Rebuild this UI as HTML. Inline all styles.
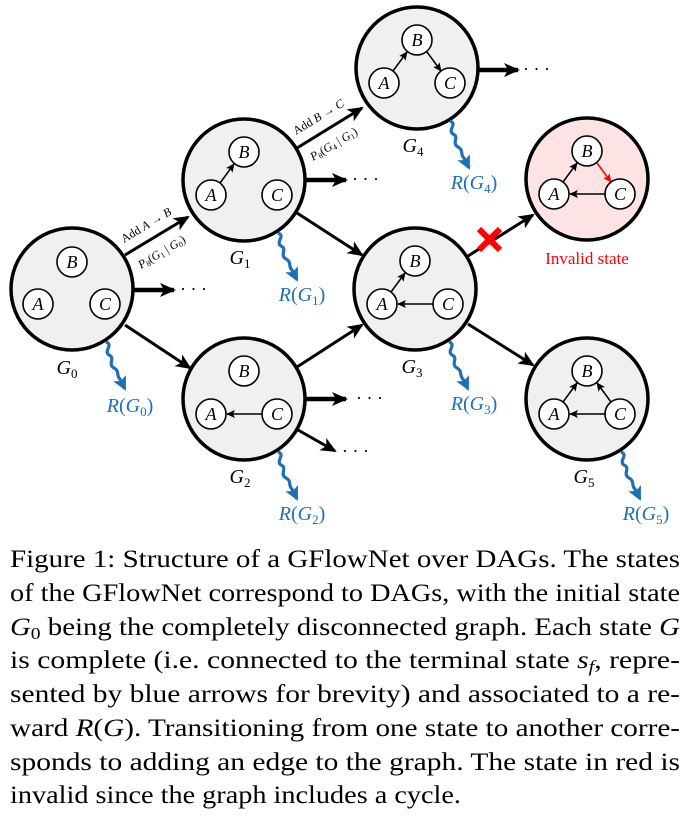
<!DOCTYPE html>
<html><head><meta charset="utf-8"><style>
html,body{margin:0;padding:0;background:#fff;}
svg{display:block}
</style></head><body>
<svg width="689" height="818" viewBox="0 0 689 818" xmlns="http://www.w3.org/2000/svg" font-family="Liberation Serif, serif">
<defs>
<marker id="ah" markerUnits="userSpaceOnUse" markerWidth="18" markerHeight="14" refX="14" refY="7" orient="auto"><path d="M0,0 L16,7 L0,14 L4,7 Z" fill="#000"/></marker>
<marker id="as" markerUnits="userSpaceOnUse" markerWidth="10" markerHeight="8" refX="8" refY="4" orient="auto"><path d="M0,0 L9,4 L0,8 L2,4 Z" fill="#000"/></marker>
<marker id="ar" markerUnits="userSpaceOnUse" markerWidth="10" markerHeight="8" refX="8" refY="4" orient="auto"><path d="M0,0 L9,4 L0,8 L2,4 Z" fill="#f00"/></marker>
<marker id="ab" markerUnits="userSpaceOnUse" markerWidth="16" markerHeight="14" refX="12" refY="7" orient="auto"><path d="M0,0 L14,7 L0,14 L3,7 Z" fill="#1f6fb5"/></marker>
<g id="nA"><circle r="15" fill="#fff" stroke="#000" stroke-width="1.6"/><text y="6" text-anchor="middle" font-size="18" font-style="italic">A</text></g>
<g id="nB"><circle r="15" fill="#fff" stroke="#000" stroke-width="1.6"/><text y="6" text-anchor="middle" font-size="18" font-style="italic">B</text></g>
<g id="nC"><circle r="15" fill="#fff" stroke="#000" stroke-width="1.6"/><text y="6" text-anchor="middle" font-size="18" font-style="italic">C</text></g>
<path id="wave" d="M0,0 c8,3 -3,9 3,13 c7,3 -2,9 5,13 c6,3 2,8 6,11 l5,10" fill="none" stroke="#1f6fb5" stroke-width="3.2" marker-end="url(#ab)"/>
</defs>

<!-- main edges -->
<g stroke="#000" stroke-width="3" fill="none">
<line x1="125" y1="255" x2="188" y2="217" marker-end="url(#ah)"/>
<line x1="125" y1="325" x2="190" y2="368" marker-end="url(#ah)"/>
<line x1="297" y1="148" x2="362" y2="108" marker-end="url(#ah)"/>
<line x1="297" y1="213" x2="362" y2="255" marker-end="url(#ah)"/>
<line x1="297" y1="367" x2="362" y2="325" marker-end="url(#ah)"/>
<line x1="298" y1="430" x2="335" y2="451" marker-end="url(#ah)"/>
<line x1="468" y1="256" x2="533" y2="215" marker-end="url(#ah)"/>
<line x1="468" y1="324" x2="533" y2="365" marker-end="url(#ah)"/>
</g>
<g stroke="#000" stroke-width="4.5" fill="none">
<line x1="133" y1="290" x2="174" y2="290" marker-end="url(#ah)"/>
<line x1="306" y1="180" x2="346" y2="180" marker-end="url(#ah)"/>
<line x1="305" y1="399" x2="346" y2="399" marker-end="url(#ah)"/>
<line x1="478" y1="70" x2="518" y2="70" marker-end="url(#ah)"/>
</g>
<g font-size="18">
<text x="180" y="295">· · ·</text>
<text x="352" y="185">· · ·</text>
<text x="356" y="404">· · ·</text>
<text x="342" y="457">· · ·</text>
<text x="523" y="75">· · ·</text>
</g>
<!-- red X -->
<g stroke="#f00" stroke-width="6"><line x1="479" y1="229" x2="500" y2="250"/><line x1="500" y1="229" x2="479" y2="250"/></g>

<!-- edge labels -->
<g font-size="12">
<text transform="translate(124,243) rotate(-31)">Add <tspan font-style="italic">A</tspan> → <tspan font-style="italic">B</tspan></text>
<text transform="translate(141,269) rotate(-31)"><tspan font-style="italic">P</tspan><tspan font-size="8" dy="2">θ</tspan><tspan dy="-2">(</tspan><tspan font-style="italic">G</tspan><tspan font-size="8" dy="2">1</tspan><tspan dy="-2"> | </tspan><tspan font-style="italic">G</tspan><tspan font-size="8" dy="2">0</tspan><tspan dy="-2">)</tspan></text>
<text transform="translate(296,135) rotate(-31)">Add <tspan font-style="italic">B</tspan> → <tspan font-style="italic">C</tspan></text>
<text transform="translate(313,161) rotate(-31)"><tspan font-style="italic">P</tspan><tspan font-size="8" dy="2">θ</tspan><tspan dy="-2">(</tspan><tspan font-style="italic">G</tspan><tspan font-size="8" dy="2">4</tspan><tspan dy="-2"> | </tspan><tspan font-style="italic">G</tspan><tspan font-size="8" dy="2">1</tspan><tspan dy="-2">)</tspan></text>
</g>

<!-- state circles -->
<g stroke="#000" stroke-width="3.5">
<circle cx="72" cy="289" r="61" fill="#f0f0f0"/>
<circle cx="244" cy="180" r="61" fill="#f0f0f0"/>
<circle cx="244" cy="399" r="61" fill="#f0f0f0"/>
<circle cx="415" cy="289" r="61" fill="#f0f0f0"/>
<circle cx="417" cy="68" r="61" fill="#f0f0f0"/>
<circle cx="587" cy="179" r="61" fill="#fde3e3"/>
<circle cx="587" cy="399" r="61" fill="#f0f0f0"/>
</g>

<g transform="translate(72,289)"><use href="#nB" y="-27"/><use href="#nA" x="-34" y="15"/><use href="#nC" x="33" y="15"/></g>
<g transform="translate(244,180)">
<line x1="-24" y1="3" x2="-10" y2="-16" stroke="#000" stroke-width="1.5" marker-end="url(#as)"/>
<use href="#nB" y="-28"/><use href="#nA" x="-33" y="15"/><use href="#nC" x="33" y="15"/></g>
<g transform="translate(244,399)">
<line x1="18" y1="15" x2="-17" y2="15" stroke="#000" stroke-width="1.5" marker-end="url(#as)"/>
<use href="#nB" y="-28"/><use href="#nA" x="-33" y="15"/><use href="#nC" x="33" y="15"/></g>
<g transform="translate(415,289)">
<line x1="-24" y1="3" x2="-10" y2="-16" stroke="#000" stroke-width="1.5" marker-end="url(#as)"/>
<line x1="18" y1="15" x2="-17" y2="15" stroke="#000" stroke-width="1.5" marker-end="url(#as)"/>
<use href="#nB" y="-28"/><use href="#nA" x="-33" y="15"/><use href="#nC" x="33" y="15"/></g>
<g transform="translate(417,68)">
<line x1="-24" y1="3" x2="-10" y2="-16" stroke="#000" stroke-width="1.5" marker-end="url(#as)"/>
<line x1="10" y1="-16" x2="24" y2="3" stroke="#000" stroke-width="1.5" marker-end="url(#as)"/>
<use href="#nB" y="-28"/><use href="#nA" x="-33" y="15"/><use href="#nC" x="33" y="15"/></g>
<g transform="translate(587,179)">
<line x1="-24" y1="3" x2="-10" y2="-16" stroke="#000" stroke-width="1.5" marker-end="url(#as)"/>
<line x1="10" y1="-16" x2="24" y2="3" stroke="#f00" stroke-width="1.5" marker-end="url(#ar)"/>
<line x1="18" y1="15" x2="-17" y2="15" stroke="#000" stroke-width="1.5" marker-end="url(#as)"/>
<use href="#nB" y="-28"/><use href="#nA" x="-33" y="15"/><use href="#nC" x="33" y="15"/></g>
<g transform="translate(587,399)">
<line x1="-24" y1="3" x2="-10" y2="-16" stroke="#000" stroke-width="1.5" marker-end="url(#as)"/>
<line x1="24" y1="3" x2="10" y2="-16" stroke="#000" stroke-width="1.5" marker-end="url(#as)"/>
<line x1="18" y1="15" x2="-17" y2="15" stroke="#000" stroke-width="1.5" marker-end="url(#as)"/>
<use href="#nB" y="-28"/><use href="#nA" x="-33" y="15"/><use href="#nC" x="33" y="15"/></g>

<text x="587" y="264" text-anchor="middle" font-size="17" fill="#f00">Invalid state</text>

<g font-size="20" font-style="italic" text-anchor="middle">
<text x="67" y="374">G<tspan font-size="13" font-style="normal" dy="4">0</tspan></text>
<text x="240" y="264">G<tspan font-size="13" font-style="normal" dy="4">1</tspan></text>
<text x="240" y="483">G<tspan font-size="13" font-style="normal" dy="4">2</tspan></text>
<text x="412" y="373">G<tspan font-size="13" font-style="normal" dy="4">3</tspan></text>
<text x="413" y="152">G<tspan font-size="13" font-style="normal" dy="4">4</tspan></text>
<text x="584" y="483">G<tspan font-size="13" font-style="normal" dy="4">5</tspan></text>
</g>

<use href="#wave" x="106" y="342"/>
<use href="#wave" x="278" y="233"/>
<use href="#wave" x="278" y="452"/>
<use href="#wave" x="449" y="342"/>
<use href="#wave" x="450" y="121"/>
<use href="#wave" x="621" y="452"/>

<g font-size="20" fill="#1f6fb5" text-anchor="middle">
<text x="130" y="412"><tspan font-style="italic">R</tspan>(<tspan font-style="italic">G</tspan><tspan font-size="13" dy="4">0</tspan><tspan dy="-4">)</tspan></text>
<text x="302" y="301"><tspan font-style="italic">R</tspan>(<tspan font-style="italic">G</tspan><tspan font-size="13" dy="4">1</tspan><tspan dy="-4">)</tspan></text>
<text x="302" y="520"><tspan font-style="italic">R</tspan>(<tspan font-style="italic">G</tspan><tspan font-size="13" dy="4">2</tspan><tspan dy="-4">)</tspan></text>
<text x="474" y="410"><tspan font-style="italic">R</tspan>(<tspan font-style="italic">G</tspan><tspan font-size="13" dy="4">3</tspan><tspan dy="-4">)</tspan></text>
<text x="474" y="189"><tspan font-style="italic">R</tspan>(<tspan font-style="italic">G</tspan><tspan font-size="13" dy="4">4</tspan><tspan dy="-4">)</tspan></text>
<text x="646" y="520"><tspan font-style="italic">R</tspan>(<tspan font-style="italic">G</tspan><tspan font-size="13" dy="4">5</tspan><tspan dy="-4">)</tspan></text>
</g>

<g font-size="25" fill="#000">
<text x="10" y="567" textLength="670" lengthAdjust="spacingAndGlyphs">Figure 1: Structure of a GFlowNet over DAGs. The states</text>
<text x="10" y="601" textLength="670" lengthAdjust="spacingAndGlyphs">of the GFlowNet correspond to DAGs, with the initial state</text>
<text x="10" y="635" textLength="670" lengthAdjust="spacingAndGlyphs"><tspan font-style="italic">G</tspan><tspan font-size="17" dy="4">0</tspan><tspan dy="-4"> being the completely disconnected graph. Each state </tspan><tspan font-style="italic">G</tspan></text>
<text x="10" y="668" textLength="670" lengthAdjust="spacingAndGlyphs">is complete (i.e. connected to the terminal state <tspan font-style="italic">s</tspan><tspan font-size="17" font-style="italic" dy="4">f</tspan><tspan dy="-4">, repre-</tspan></text>
<text x="10" y="702" textLength="670" lengthAdjust="spacingAndGlyphs">sented by blue arrows for brevity) and associated to a re-</text>
<text x="10" y="736" textLength="670" lengthAdjust="spacingAndGlyphs">ward <tspan font-style="italic">R</tspan>(<tspan font-style="italic">G</tspan>). Transitioning from one state to another corre-</text>
<text x="10" y="770" textLength="670" lengthAdjust="spacingAndGlyphs">sponds to adding an edge to the graph. The state in red is</text>
<text x="10" y="803" textLength="451" lengthAdjust="spacingAndGlyphs">invalid since the graph includes a cycle.</text>
</g>
</svg>
</body></html>
